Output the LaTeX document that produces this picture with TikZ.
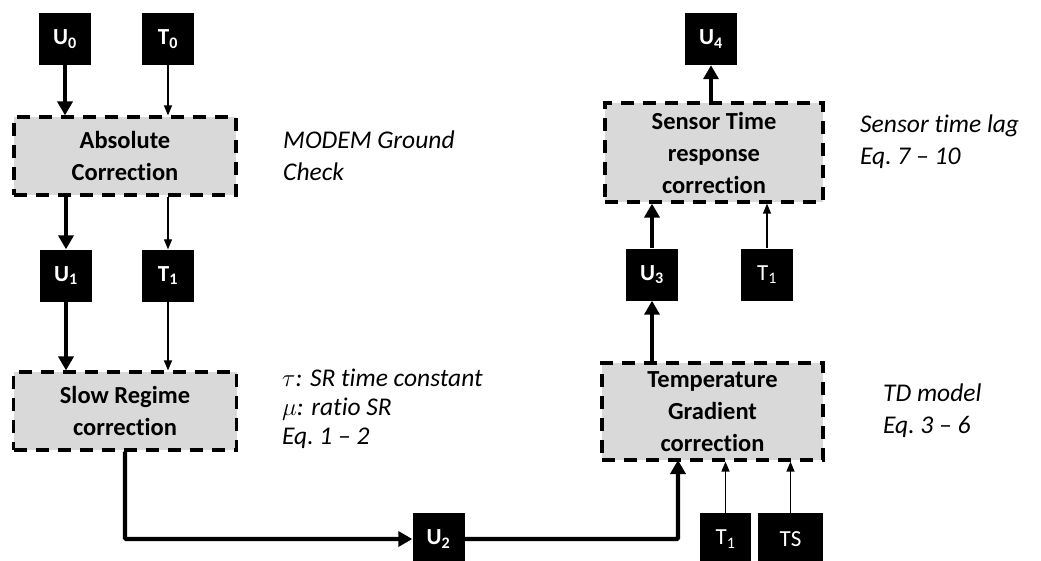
\documentclass[tikz,border=0pt]{standalone}
\usepackage{fontspec}
\setmainfont[RawFeature={-liga}]{Carlito}
\usetikzlibrary{arrows.meta}
\begin{document}
\begin{tikzpicture}[x=1pt,y=-1pt,
  blk/.style={fill=black,text=white,font=\fontsize{23}{24}\selectfont\bfseries,inner sep=0pt,minimum width=52pt,minimum height=52pt},
  proc/.style={draw=black,fill=gray!30,line width=3.2pt,dash pattern=on 13pt off 9pt,align=center,inner sep=0pt,font=\fontsize{24.5}{32}\selectfont\bfseries},
  note/.style={anchor=west,align=left,inner sep=0pt,font=\fontsize{25.5}{32}\selectfont\itshape},
  thk/.style={line width=4.2pt,-{Triangle[length=14pt,width=15pt]}},
  thn/.style={line width=1.3pt,-{Triangle[length=10pt,width=8pt]}}
]
\useasboundingbox (0,0) rectangle (1041,560);
% left column
\node[blk] (U0) at (65,39) {U\textsubscript{0}};
\node[blk] (T0) at (168,39) {T\textsubscript{0}};
\node[proc,minimum width=222pt,minimum height=78pt] (abs) at (125,156) {Absolute\\Correction};
\node[blk] (U1) at (66,275.5) {U\textsubscript{1}};
\node[blk] (T1a) at (168,275.5) {T\textsubscript{1}};
\node[proc,minimum width=223pt,minimum height=78pt] (slow) at (125,411) {Slow Regime\\correction};
\node[blk] (U2) at (438.5,539) {U\textsubscript{2}};
% right column
\node[proc,minimum width=221pt,minimum height=97pt] (tg) at (712.5,411.5) {Temperature\\Gradient\\correction};
\node[blk,minimum width=51pt,font=\fontsize{23}{24}\selectfont] (T1b) at (725.5,539) {T\textsubscript{1}};
\node[blk,minimum width=65pt,font=\fontsize{23}{24}\selectfont] (TS) at (790.5,539) {TS};
\node[blk] (U3) at (652,274.5) {U\textsubscript{3}};
\node[blk,font=\fontsize{23}{24}\selectfont] (T1c) at (767,274.5) {T\textsubscript{1}};
\node[proc,minimum width=218pt,minimum height=99pt] (sen) at (714,152.5) {Sensor Time\\response\\correction};
\node[blk] (U4) at (711,39) {U\textsubscript{4}};
\coordinate (tgin) at (678,460);
% notes
\node[note] (n1) at (283,156) {MODEM Ground\\Check};
\node[note,font=\fontsize{25.5}{29}\selectfont\itshape] (n2) at (282,409) {$\tau$: SR time constant\\$\mu$: ratio SR\\Eq.~1 -- 2};
\node[note] (n3) at (860,141.5) {Sensor time lag\\Eq.~7 -- 10};
\node[note] (n4) at (883,411) {TD model\\Eq.~3 -- 6};
% connectors
\draw[thk] (U0.south) -- (U0.south |- abs.north);
\draw[thn] (T0.south) -- (T0.south |- abs.north);
\draw[thk] (U1.north |- abs.south) -- (U1.north);
\draw[thn] (T1a.north |- abs.south) -- (T1a.north);
\draw[thk] (U1.south) -- (U1.south |- slow.north);
\draw[thn] (T1a.south) -- (T1a.south |- slow.north);
\draw[thk,rounded corners=1pt] (slow.south) |- (U2.west);
\draw[thk,rounded corners=1pt] (U2.east) -| (tgin);
\draw[thn] (T1b.north) -- (T1b.north |- tg.south);
\draw[thn] (TS.north) -- (TS.north |- tg.south);
\draw[thk] (U3.south |- tg.north) -- (U3.south);
\draw[thk] (U3.north) -- (U3.north |- sen.south);
\draw[thn] (T1c.north) -- (T1c.north |- sen.south);
\draw[thk] (U4.south |- sen.north) -- (U4.south);
\end{tikzpicture}
\end{document}
